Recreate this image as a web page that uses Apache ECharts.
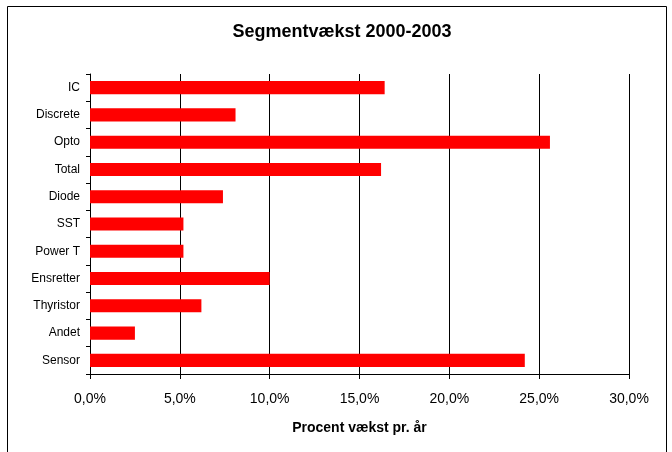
<!DOCTYPE html>
<html>
<head>
<meta charset="utf-8">
<script src="https://cdn.jsdelivr.net/npm/echarts@6/dist/echarts.min.js"></script>
<style>
  html, body { margin: 0; padding: 0; background: #fff; }
  #chart { width: 672px; height: 452px; }
</style>
</head>
<body>
<div id="chart"></div>
<script>
// segmenter og vækst i procent pr. år
var categories = ['IC', 'Discrete', 'Opto', 'Total', 'Diode', 'SST', 'Power T', 'Ensretter', 'Thyristor', 'Andet', 'Sensor'];
var growth = [16.4, 8.1, 25.6, 16.2, 7.4, 5.2, 5.2, 10.0, 6.2, 2.5, 24.2];
var xTicks = [0, 5, 10, 15, 20, 25, 30];

var dom = document.getElementById('chart');
var myChart = echarts.init(dom);
var option = {
  backgroundColor: '#fff',
  animation: false,
  title: {
    text: 'Segmentvækst 2000-2003',
    left: 337,
    textAlign: 'center',
    top: 18,
    textStyle: {
      fontFamily: 'Liberation Sans',
      fontSize: 18,
      fontWeight: 'bold',
      color: '#000'
    }
  },
  graphic: [
    {
      type: 'rect',
      shape: { x: 7.5, y: 6.5, width: 659, height: 460 },
      style: { fill: 'none', stroke: '#000', lineWidth: 1 },
      silent: true,
      z: -1
    }
  ],
  grid: {
    left: 90,
    right: 43,
    top: 74,
    bottom: 78
  },
  xAxis: {
    type: 'value',
    min: xTicks[0],
    max: xTicks[xTicks.length - 1],
    interval: 5,
    name: 'Procent vækst pr. år',
    nameLocation: 'middle',
    nameGap: 47,
    nameTextStyle: {
      fontFamily: 'Liberation Sans',
      fontSize: 14,
      fontWeight: 'bold',
      color: '#000'
    },
    axisLine: { show: true, lineStyle: { color: '#000', width: 1 } },
    axisTick: { show: true, length: 5, lineStyle: { color: '#000' } },
    axisLabel: {
      margin: 18,
      fontFamily: 'Liberation Sans',
      fontSize: 14,
      color: '#000',
      formatter: function (v) {
        return v.toFixed(1).replace('.', ',') + '%';
      }
    },
    splitLine: { show: true, lineStyle: { color: '#000', width: 1 } }
  },
  yAxis: {
    type: 'category',
    data: categories,
    inverse: true,
    axisLine: { show: true, lineStyle: { color: '#000', width: 1 } },
    axisTick: { show: true, length: 4, lineStyle: { color: '#000' } },
    axisLabel: {
      margin: 10,
      fontFamily: 'Liberation Sans',
      fontSize: 12,
      color: '#000'
    },
    splitLine: { show: false }
  },
  series: [
    {
      type: 'bar',
      data: growth,
      barCategoryGap: '52%',
      itemStyle: { color: '#ff0000' }
    }
  ]
};
myChart.setOption(option, true);
</script>
</body>
</html>
